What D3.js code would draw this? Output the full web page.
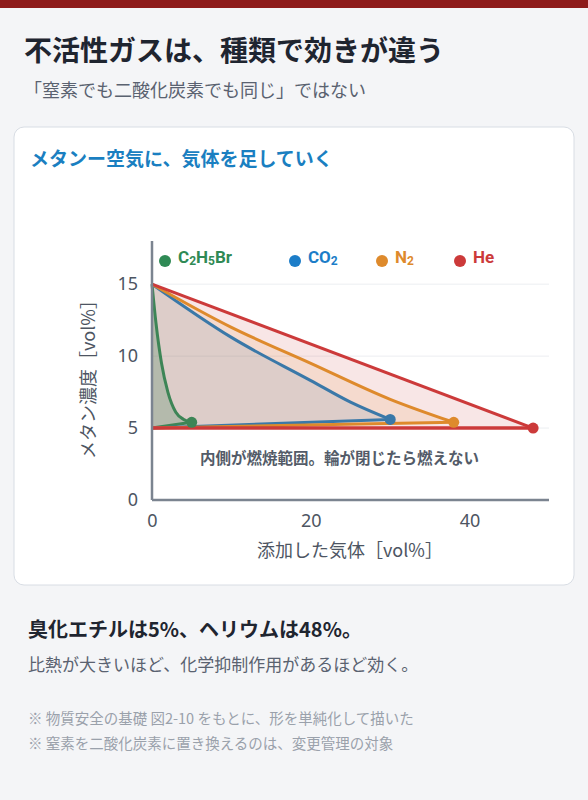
<!DOCTYPE html>
<html><head><meta charset="utf-8">
<script src="https://cdn.jsdelivr.net/npm/d3@7"></script>
<style>
body{margin:0;background:#f4f5f7;font-family:"Noto Sans CJK JP","Noto Sans",sans-serif;}
</style></head>
<body><div id="chart"></div>
<script>
var xTicks = [0,20,40]
var yTicks = [0,5,10,15]
var gasNames = ["C2H5Br","CO2","N2","He"]
var gasColors = ["#3d8556","#3a78a8","#de8a2c","#cc3a3a"]
var legendColors = ["#2f8a55","#1c7dc8","#de8a2c","#cc3a3a"]
// upper boundary of each flammable region [added gas, methane]
var upperC2H5Br = [[0,15],[0.5,12.3],[1.2,9.5],[2,7.5],[3,6.1],[4,5.6],[5,5.4]]
var upperCO2 = [[0,15],[10,11.3],[20,8.3],[25,6.8],[30,5.6]]
var upperN2 = [[0,15],[10,12],[20,9.5],[30,7],[38,5.4]]
var upperHe = [[0,15],[48,5]]
var lowerStart = [0,5]

var w = 588, h = 800
var svg = d3.select("#chart").append("svg").attr("width",w).attr("height",h)

svg.append("rect").attr("width",w).attr("height",8).attr("fill","#8e1b1b")
svg.append("text").attr("x",24).attr("y",61).attr("font-size",28).attr("font-weight",700)
	.attr("fill","#1f2530").text("不活性ガスは、種類で効きが違う")
svg.append("text").attr("x",24).attr("y",97).attr("font-size",18)
	.attr("fill","#5a6270").text("「窒素でも二酸化炭素でも同じ」ではない")

svg.append("rect").attr("x",14).attr("y",127).attr("width",560).attr("height",458)
	.attr("rx",10).attr("fill","#fff").attr("stroke","#d8dde4")
svg.append("text").attr("x",30).attr("y",166).attr("font-size",19).attr("font-weight",700)
	.attr("fill","#1a7fc1").text("メタンー空気に、気体を足していく")

var x = d3.scaleLinear().domain([0,50]).range([152,549])
var y = d3.scaleLinear().domain([0,18]).range([500,241])

var g = svg.append("g")
g.selectAll(".grid").data(yTicks.filter(function(d){return d>0})).enter().append("line")
	.attr("x1",x(0)).attr("x2",x(50)).attr("y1",function(d){return y(d)}).attr("y2",function(d){return y(d)})
	.attr("stroke","#eceef1")

var uppers = [upperC2H5Br,upperCO2,upperN2,upperHe]
var line = d3.line().x(function(d){return x(d[0])}).y(function(d){return y(d[1])}).curve(d3.curveMonotoneX)

function densify(pts){
	if (pts.length<3) return pts
	var p = d3.select(document.createElementNS("http://www.w3.org/2000/svg","path")).attr("d",line(pts)).node()
	var L = p.getTotalLength(), out = []
	for (var k=0;k<=80;k++){var q=p.getPointAtLength(L*k/80); out.push([x.invert(q.x),y.invert(q.y)])}
	return out
}
// widest region first
for (var i=3;i>=0;i--){
	var poly = densify(uppers[i]).concat([lowerStart])
	g.append("path").attr("d","M"+poly.map(function(d){return x(d[0])+","+y(d[1])}).join("L")+"Z")
		.attr("fill",gasColors[i]).attr("fill-opacity",i==0?0.25:0.13)
}
for (var i=0;i<4;i++){
	var up = uppers[i], end = up[up.length-1]
	g.append("path").attr("d",line(up)).attr("fill","none").attr("stroke",gasColors[i]).attr("stroke-width",3)
	g.append("path").attr("d",d3.line().x(function(d){return x(d[0])}).y(function(d){return y(d[1])})([lowerStart,end]))
		.attr("fill","none").attr("stroke",gasColors[i]).attr("stroke-width",3)
}
g.append("line").attr("x1",x(0)).attr("x2",x(48)).attr("y1",y(5)).attr("y2",y(5)).attr("stroke","#cc3a3a").attr("stroke-width",3)
for (var i=0;i<4;i++){
	var end = uppers[i][uppers[i].length-1]
	g.append("circle").attr("cx",x(end[0])).attr("cy",y(end[1])).attr("r",5.5).attr("fill",gasColors[i])
}

var xAxis = svg.append("g").attr("transform","translate(0,"+y(0)+")")
	.call(d3.axisBottom(x).tickValues(xTicks).tickSize(0).tickPadding(14))
var yAxis = svg.append("g").attr("transform","translate("+x(0)+",0)")
	.call(d3.axisLeft(y).tickValues(yTicks).tickSize(0).tickPadding(14))
svg.selectAll(".domain").attr("stroke","#7b8490").attr("stroke-width",2.5)
svg.selectAll(".tick text").attr("font-size",18).attr("fill","#4d5562").attr("font-family","Noto Sans")
yAxis.select(".domain").attr("d","M0,"+y(18)+"V"+y(0))
xAxis.select(".domain").attr("d","M"+x(0)+",0H"+x(50))

svg.append("text").attr("x",350).attr("y",557).attr("text-anchor","middle").attr("font-size",18)
	.attr("fill","#4d5562").text("添加した気体［vol%］")
svg.append("text").attr("transform","translate(95,375) rotate(-90)").attr("text-anchor","middle")
	.attr("font-size",18).attr("fill","#4d5562").text("メタン濃度［vol%］")
svg.append("text").attr("x",200).attr("y",464).attr("font-size",15.5).attr("font-weight",700)
	.attr("fill","#535b68").text("内側が燃焼範囲。輪が閉じたら燃えない")

var legX = [165,295,382,460]
var legParts = [[["C",0],["2",1],["H",0],["5",1],["Br",0]],[["CO",0],["2",1]],[["N",0],["2",1]],[["He",0]]]
for (var i=0;i<4;i++){
	svg.append("circle").attr("cx",legX[i]).attr("cy",261).attr("r",6).attr("fill",legendColors[i])
	var t = svg.append("text").attr("x",legX[i]+13).attr("y",263).attr("font-weight",700)
		.attr("fill",legendColors[i]).attr("font-family","Roboto")
	var shifted = false
	legParts[i].forEach(function(p){
		var dy = p[1] ? 2 : (shifted ? -2 : 0)
		shifted = !!p[1]
		t.append("tspan").attr("font-size",p[1]?12:17).attr("dy",dy).text(p[0])
	})
}

svg.append("text").attr("x",28).attr("y",637).attr("font-size",20).attr("font-weight",700)
	.attr("fill","#1f2530").text("臭化エチルは5%、ヘリウムは48%。")
svg.append("text").attr("x",28).attr("y",671).attr("font-size",17)
	.attr("fill","#5a6270").text("比熱が大きいほど、化学抑制作用があるほど効く。")
svg.append("text").attr("x",28).attr("y",724).attr("font-size",14.5)
	.attr("fill","#9aa1ab").text("※ 物質安全の基礎 図2-10 をもとに、形を単純化して描いた")
svg.append("text").attr("x",28).attr("y",749).attr("font-size",14.5)
	.attr("fill","#9aa1ab").text("※ 窒素を二酸化炭素に置き換えるのは、変更管理の対象")
</script></body></html>
